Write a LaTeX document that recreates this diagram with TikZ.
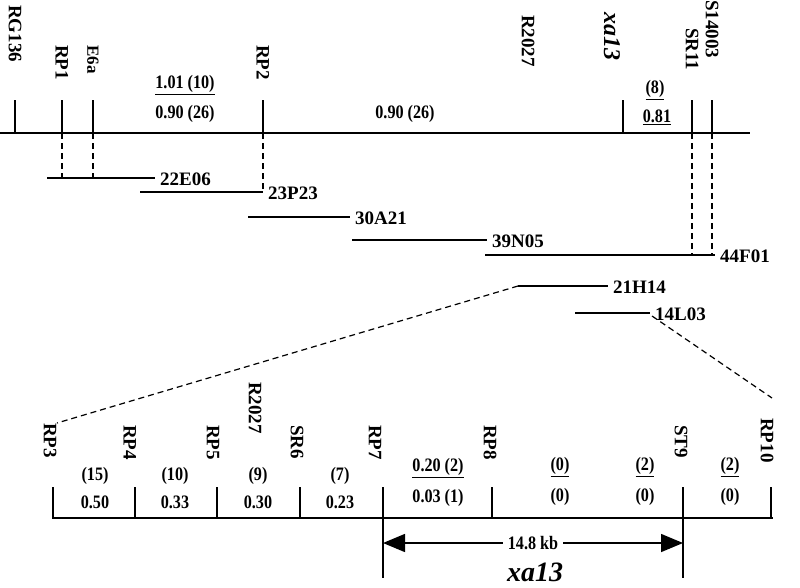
\documentclass[tikz,border=0pt]{standalone}
\usepackage{fontspec}
\setmainfont{Liberation Serif}
\usetikzlibrary{arrows.meta}
\begin{document}
\begin{tikzpicture}[x=1pt,y=-1pt,
  lab/.style={font=\bfseries\fontsize{19}{20}\selectfont,inner sep=0pt},
  vl/.style={lab,rotate=-90,anchor=west},
  num/.style={font=\bfseries\fontsize{19}{20}\selectfont,inner sep=1pt,xscale=0.85},
  ln/.style={line width=1.5pt},
  dl/.style={line width=1.2pt,dash pattern=on 6pt off 4pt},
  tk/.style={line width=1.2pt}]
\useasboundingbox (0,0) rectangle (800,587);
% top map
\coordinate (mL) at (0,133); \coordinate (mR) at (750,133);
\draw[ln] (mL) -- (mR);
\foreach \n/\x/\t/\b in {rg/15/100/133, rp1/62/100/133, e6a/93/100/133, rp2/263/100/133, xa/623/100/133, sr/692/100/133, s14/712/100/133}{
  \coordinate (\n t) at (\x,\t); \coordinate (\n b) at (\x,\b);
  \draw[tk] (\n t) -- (\n b);}
\node[vl] (Lrg) at (15,5) {RG136};
\node[vl] (Lrp1) at (62,45) {RP1};
\node[vl,font=\bfseries\fontsize{17}{18}\selectfont] (Le6a) at (93,45) {E6a};
\node[vl] (Lrp2) at (263,45) {RP2};
\node[vl] (Lr2027) at (528,15) {R2027};
\node[vl,font=\bfseries\itshape\fontsize{24}{24}\selectfont] (Lxa) at (612,12) {xa13};
\node[vl] (Lsr) at (692,28) {SR11};
\node[vl] (Ls14) at (712,0) {S14003};
\node[num] (f1) at (185,85) {\underline{1.01 (10)}};
\node[num] (f2) at (185,114) {0.90 (26)};
\node[num] (f3) at (405,114) {0.90 (26)};
\node[num] (f4) at (655,90) {\underline{(8)}};
\node[num] (f5) at (657,117) {\underline{0.81}};
% BACs
\foreach \n/\a/\b/\y/\l in {b1/47/155/178/22E06, b2/140/263/192/23P23, b3/248/350/217/30A21, b4/352/487/240/39N05, b5/485/715/255/44F01, b6/518/608/286/21H14, b7/575/650/313/14L03}{
  \coordinate (\n a) at (\a,\y); \coordinate (\n b) at (\b,\y);
  \draw[ln] (\n a) -- (\n b);
  \node[lab,anchor=west] (\n l) at ([xshift=5pt,yshift=-1pt]\n b) {\l};}
\coordinate (d1) at (62,178); \coordinate (d2) at (93,178); \coordinate (d3) at (263,192);
\coordinate (d4) at (692,255); \coordinate (d5) at (712,255);
\draw[dl] (rp1b) -- (d1); \draw[dl] (e6ab) -- (d2); \draw[dl] (rp2b) -- (d3);
\draw[dl] (srb) -- (d4); \draw[dl] (s14b) -- (d5);
% zoom lines
\coordinate (z1) at (57,423); \coordinate (z2) at (772,398);
\draw[dl] (b6a) -- (z1);
\draw[dl] (652,316) -- (z2);
% bottom map
\coordinate (bL) at (52,518); \coordinate (bR) at (773,518);
\draw[line width=2pt] (bL) -- (bR);
\foreach \n/\x/\b in {p3/53/518, p4/135/518, p5/217/518, s6/300/518, p7/383/578, p8/492/518, t9/683/578, p10/771/518}{
  \coordinate (\n t) at (\x,487); \coordinate (\n b) at (\x,\b);
  \draw[tk] (\n t) -- (\n b);}
\node[vl] (Lp3) at (50,423) {RP3};
\node[vl] (Lp4) at (130,425) {RP4};
\node[vl] (Lp5) at (213,425) {RP5};
\node[vl] (Lr2) at (255,382) {R2027};
\node[vl] (Ls6) at (297,425) {SR6};
\node[vl] (Lp7) at (375,425) {RP7};
\node[vl] (Lp8) at (490,425) {RP8};
\node[vl] (Lt9) at (681,425) {ST9};
\node[vl] (Lp10) at (767,418) {RP10};
\foreach \x/\u/\d in {95/(15)/0.50, 175/(10)/0.33, 258/(9)/0.30, 340/(7)/0.23}{
  \node[num] at (\x,476) {\u}; \node[num] at (\x,502) {\d};}
\node[num] (g1) at (438,468) {\underline{0.20 (2)}};
\node[num] (g2) at (438,498) {0.03 (1)};
\foreach \x/\u in {560/(0), 645/(2), 730/(2)}{
  \node[num] at (\x,467) {\underline{\u}}; \node[num] at (\x,497) {(0)};}
\coordinate (a1) at (383,543); \coordinate (a2) at (683,543);
\draw[line width=1.5pt,{Triangle[length=22pt,width=18pt]}-{Triangle[length=22pt,width=18pt]}] (a1) -- (a2);
\node[num,fill=white,inner xsep=6pt] (kb) at (533,543) {14.8 kb};
\node[font=\bfseries\itshape\fontsize{28}{28}\selectfont,inner sep=0pt] (xb) at (535,572) {xa13};
\end{tikzpicture}
\end{document}
